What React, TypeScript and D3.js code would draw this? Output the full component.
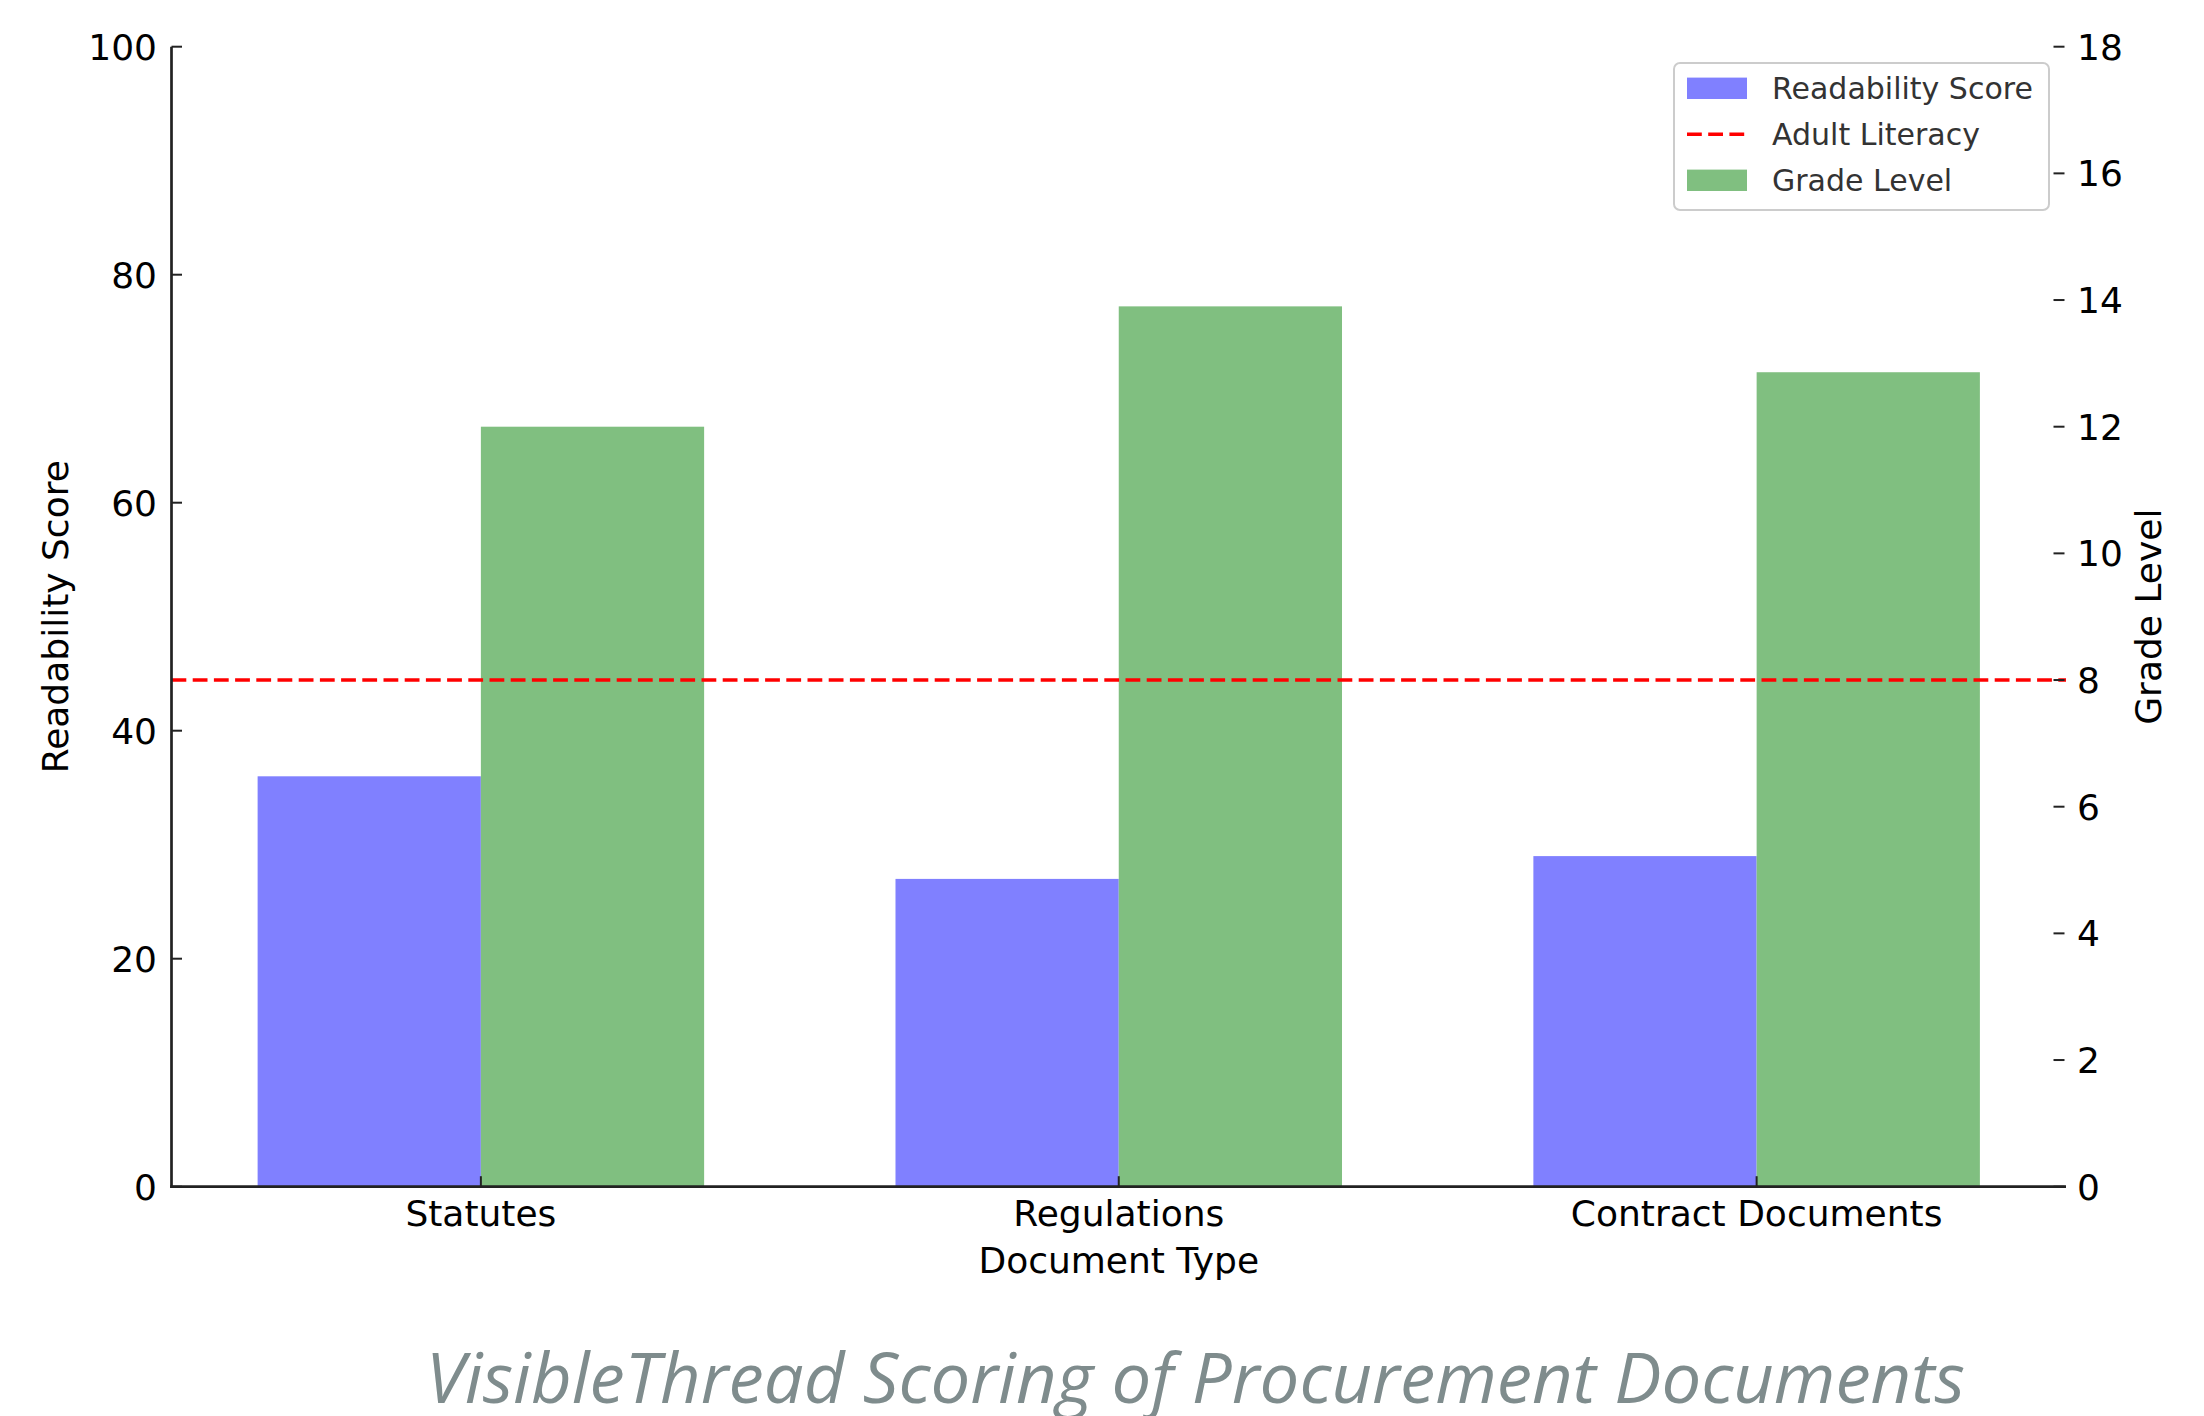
import React from "react";
import * as d3 from "d3";

const categories = ["Statutes", "Regulations", "Contract Documents"];
const readabilityScores = [36, 27, 29];
const gradeLevels = [12.0, 13.9, 12.86];
const adultLiteracyGrade = 8;
const leftTicks = [0, 20, 40, 60, 80, 100];
const rightTicks = [0, 2, 4, 6, 8, 10, 12, 14, 16, 18];
const legendItems = ["Readability Score", "Adult Literacy", "Grade Level"];
const titleText = "VisibleThread Scoring of Procurement Documents";

const W = 2204;
const H = 1416;
const PL = 171.5;
const PR = 2066;
const PT = 46.7;
const PB = 1186.7;
const BAR_W = 0.35;
const BLUE = "rgb(128,128,255)";
const GREEN = "rgb(128,191,128)";
const AXIS = "#222";
const FONT = "'DejaVu Sans', sans-serif";

export default function App() {
  const x = d3.scaleLinear().domain([-0.485, 2.485]).range([PL, PR]);
  const yL = d3.scaleLinear().domain([0, 100]).range([PB, PT]);
  const yR = d3.scaleLinear().domain([0, 18]).range([PB, PT]);
  const bw = x(BAR_W) - x(0);

  return (
    <svg
      width={W}
      height={H}
      viewBox={`0 0 ${W} ${H}`}
      style={{ position: "absolute", left: 0, top: 0, display: "block", background: "#fff" }}
    >
      <rect x={0} y={0} width={W} height={H} fill="#fff" />
      {/* Readability bars */}
      {readabilityScores.map((v, i) => (
        <rect key={"b" + i} x={x(i) - bw} y={yL(v)} width={bw} height={yL(0) - yL(v)} fill={BLUE} />
      ))}
      {/* Grade bars */}
      {gradeLevels.map((v, i) => (
        <rect key={"g" + i} x={x(i)} y={yR(v)} width={bw} height={yR(0) - yR(v)} fill={GREEN} />
      ))}
      {/* Adult literacy line */}
      <line
        x1={PL}
        x2={PR}
        y1={yR(adultLiteracyGrade)}
        y2={yR(adultLiteracyGrade)}
        stroke="#ff0000"
        strokeWidth={3.6}
        strokeDasharray="14.8 6.4"
      />
      {/* Left spine */}
      <line x1={PL} x2={PL} y1={PT} y2={PB + 1.3} stroke={AXIS} strokeWidth={2.7} />
      {/* Bottom spine */}
      <line x1={PL - 1.3} x2={PR} y1={PB} y2={PB} stroke={AXIS} strokeWidth={2.7} />
      {/* Left ticks */}
      {leftTicks.map((t) => (
        <g key={"lt" + t}>
          <line x1={PL} x2={PL + 10.5} y1={yL(t)} y2={yL(t)} stroke={AXIS} strokeWidth={2} />
          <text x={157} y={yL(t) + 13} textAnchor="end" fontFamily={FONT} fontSize={36} fill="#000">
            {t}
          </text>
        </g>
      ))}
      {/* Right ticks */}
      {rightTicks.map((t) => (
        <g key={"rt" + t}>
          <line x1={PR - 12.5} x2={PR - 1.5} y1={yR(t)} y2={yR(t)} stroke={AXIS} strokeWidth={2} />
          <text x={2077} y={yR(t) + 13} textAnchor="start" fontFamily={FONT} fontSize={36} fill="#000">
            {t}
          </text>
        </g>
      ))}
      {/* X ticks */}
      {categories.map((c, i) => (
        <g key={"xt" + i}>
          <line x1={x(i)} x2={x(i)} y1={PB} y2={PB - 10.5} stroke={AXIS} strokeWidth={2} />
          <text x={x(i)} y={1226} textAnchor="middle" fontFamily={FONT} fontSize={36} fill="#000">
            {c}
          </text>
        </g>
      ))}
      {/* Axis labels */}
      <text x={(PL + PR) / 2} y={1273} textAnchor="middle" fontFamily={FONT} fontSize={36} fill="#000">
        Document Type
      </text>
      <text
        transform={`translate(68,${(PT + PB) / 2}) rotate(-90)`}
        textAnchor="middle"
        fontFamily={FONT}
        fontSize={36}
        fill="#000"
      >
        Readability Score
      </text>
      <text
        transform={`translate(2161,${(PT + PB) / 2}) rotate(-90)`}
        textAnchor="middle"
        fontFamily={FONT}
        fontSize={36}
        fill="#000"
      >
        Grade Level
      </text>
      {/* Legend */}
      <g>
        <rect x={1674} y={63} width={375} height={147} rx={6} ry={6} fill="#fff" fillOpacity={0.85} stroke="#cccccc" strokeWidth={2} />
        {legendItems.map((label, i) => {
          const cy = 88.3 + i * 46;
          return (
            <g key={"lg" + i}>
              {i === 0 && <rect x={1687} y={cy - 10.7} width={60} height={21.4} fill={BLUE} />}
              {i === 1 && (
                <line x1={1687} x2={1747} y1={cy} y2={cy} stroke="#ff0000" strokeWidth={3.6} strokeDasharray="14.8 6.4" />
              )}
              {i === 2 && <rect x={1687} y={cy - 10.7} width={60} height={21.4} fill={GREEN} />}
              <text x={1772} y={cy + 10.5} fontFamily={FONT} fontSize={30} fill="#333">
                {label}
              </text>
            </g>
          );
        })}
      </g>
      {/* Title */}
      <text
        x={426}
        y={1403}
        fontFamily="'Open Sans', sans-serif"
        fontStyle="italic"
        fontSize={70}
        fill="#7f8c8d"
        textLength={1539}
        lengthAdjust="spacingAndGlyphs"
      >
        {titleText}
      </text>
    </svg>
  );
}
